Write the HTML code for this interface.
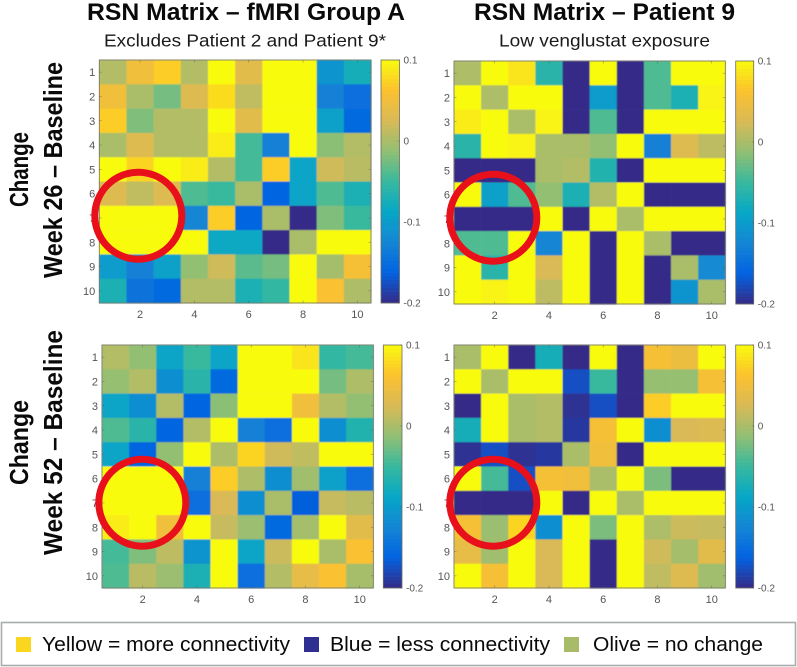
<!DOCTYPE html>
<html lang="en">
<head>
<meta charset="utf-8">
<title>RSN Matrix comparison</title>
<style>
html,body{margin:0;padding:0;background:#fff;}
svg{display:block;}
text{font-family:"Liberation Sans",sans-serif;}
.title{font-size:24px;font-weight:bold;fill:#0a0a0a;}
.sub{font-size:17.5px;fill:#1a1a1a;}
.side{font-size:26px;font-weight:bold;fill:#0a0a0a;}
.legend{font-size:20px;fill:#0a0a0a;}
.tick{font-size:11px;fill:#555;}
.cb{font-size:10px;fill:#555;}
</style>
</head>
<body>
<svg id="chart" xmlns="http://www.w3.org/2000/svg" width="797" height="667" viewBox="0 0 797 667">
  <defs>
    <filter id="soft" x="-2%" y="-2%" width="104%" height="104%"><feGaussianBlur stdDeviation="0.45"/></filter>
  </defs>
  <rect width="797" height="667" fill="#fff"/>

  <text class="title" x="87" y="20" textLength="318" lengthAdjust="spacingAndGlyphs">RSN Matrix – fMRI Group A</text>
  <text class="sub" x="104" y="46.5" textLength="282" lengthAdjust="spacingAndGlyphs">Excludes Patient 2 and Patient 9*</text>
  <text class="title" x="474" y="20" textLength="261" lengthAdjust="spacingAndGlyphs">RSN Matrix – Patient 9</text>
  <text class="sub" x="499" y="46.5" textLength="211" lengthAdjust="spacingAndGlyphs">Low venglustat exposure</text>

  <text class="side" transform="translate(28,207) rotate(-90)" textLength="75" lengthAdjust="spacingAndGlyphs">Change</text>
  <text class="side" transform="translate(62,278) rotate(-90)" textLength="216" lengthAdjust="spacingAndGlyphs">Week 26 – Baseline</text>
  <text class="side" transform="translate(28,485) rotate(-90)" textLength="85" lengthAdjust="spacingAndGlyphs">Change</text>
  <text class="side" transform="translate(62,555) rotate(-90)" textLength="225" lengthAdjust="spacingAndGlyphs">Week 52 – Baseline</text>

  <g id="panels"></g>

  <g>
    <rect x="1.5" y="622.5" width="794" height="43" fill="#fff" stroke="#a9acae" stroke-width="1.6"/>
    <rect x="16" y="637" width="15" height="15" fill="#fad61e"/>
    <text class="legend" x="42" y="651" textLength="248" lengthAdjust="spacingAndGlyphs">Yellow = more connectivity</text>
    <rect x="304" y="637" width="15" height="15" fill="#2f2e91"/>
    <text class="legend" x="330" y="651" textLength="220" lengthAdjust="spacingAndGlyphs">Blue = less connectivity</text>
    <rect x="564" y="637" width="15" height="15" fill="#a8bb69"/>
    <text class="legend" x="593" y="651" textLength="170" lengthAdjust="spacingAndGlyphs">Olive = no change</text>
  </g>
</svg>

<script>
// ---- Data ----
var xTickLabels = [2, 4, 6, 8, 10];
var yTickLabels = [1, 2, 3, 4, 5, 6, 7, 8, 9, 10];
var colorbarTickValues = [0.1, 0, -0.1, -0.2];
var colorbarTickLabels = ['0.1', '0', '-0.1', '-0.2'];

var groupAWeek26 = [
  [0.005, 0.05, 0.07, 0.005, 0.1, 0.035, 0.1, 0.1, -0.11, -0.075],
  [0.05, 0, -0.025, 0.03, 0.08, 0.012, 0.1, 0.1, -0.13, -0.15],
  [0.07, -0.02, 0.005, 0.005, 0.1, 0.035, 0.1, 0.1, -0.095, -0.155],
  [0, 0.03, 0.005, 0.005, 0.09, -0.045, -0.13, 0.1, -0.015, 0.005],
  [0.1, 0.075, 0.1, 0.09, 0.005, -0.045, 0.07, -0.09, 0.02, 0.008],
  [0.03, 0.012, 0.03, -0.04, -0.05, 0, -0.16, -0.09, -0.04, -0.07],
  [0.1, 0.1, 0.1, -0.125, 0.07, -0.16, 0, -0.2, -0.02, -0.05],
  [0.1, 0.1, 0.1, 0.1, -0.085, -0.085, -0.2, 0, 0.1, 0.1],
  [-0.1, -0.13, -0.095, -0.012, 0.02, -0.035, -0.025, 0.1, -0.003, 0.055],
  [-0.07, -0.145, -0.155, 0.005, 0.005, -0.07, -0.055, 0.1, 0.06, 0.002]
];
var patient9Week26 = [
  [0.002, 0.1, 0.085, -0.06, -0.2, 0.1, -0.2, -0.04, 0.1, 0.1],
  [0.1, 0.002, 0.1, 0.1, -0.2, -0.1, -0.2, -0.04, -0.07, 0.095],
  [0.09, 0.1, 0, 0.095, -0.2, -0.04, -0.2, 0.1, 0.1, 0.1],
  [-0.06, 0.1, 0.095, 0, 0, -0.012, 0.1, -0.13, 0.03, 0.01],
  [-0.2, -0.2, -0.2, 0, 0.005, -0.065, -0.2, 0.1, 0.1, 0.1],
  [0.1, -0.095, -0.04, -0.012, -0.07, 0.005, 0.1, -0.2, -0.2, -0.2],
  [-0.2, -0.2, -0.2, 0.1, -0.2, 0.1, 0, 0.1, 0.1, 0.1],
  [-0.04, -0.04, 0.1, -0.125, 0.1, -0.2, 0.1, 0, -0.2, -0.2],
  [0.1, -0.06, 0.1, 0.025, 0.1, -0.2, 0.1, -0.2, 0, -0.12],
  [0.1, 0.095, 0.1, 0.01, 0.1, -0.2, 0.1, -0.2, -0.11, 0]
];
var groupAWeek52 = [
  [0.005, -0.012, -0.09, -0.05, -0.09, 0.1, 0.1, 0.085, -0.055, -0.045],
  [-0.01, 0.005, -0.115, -0.06, -0.155, 0.1, 0.1, 0.1, -0.025, 0.002],
  [-0.09, -0.115, 0.005, -0.16, -0.015, 0.1, 0.1, 0.05, 0.005, -0.012],
  [-0.04, -0.06, -0.16, 0.005, 0.1, -0.13, -0.15, 0.1, -0.115, -0.065],
  [-0.09, -0.16, -0.012, 0.1, 0.002, 0.075, 0.02, 0.012, 0.1, 0.1],
  [0.1, 0.1, 0.1, -0.13, 0.07, 0.002, -0.115, -0.005, -0.095, -0.15],
  [0.1, 0.1, 0.1, -0.15, 0.025, -0.115, 0, -0.165, 0.015, 0.008],
  [0.09, 0.1, 0.05, 0.1, 0.015, -0.008, -0.155, -0.003, 0.1, 0.035],
  [-0.045, -0.02, 0.01, -0.11, 0.1, -0.09, 0.018, 0.1, 0, 0.06],
  [-0.04, 0.008, -0.008, -0.07, 0.1, -0.15, 0.005, 0.04, 0.06, -0.002]
];
var patient9Week52 = [
  [0, 0.1, -0.2, -0.075, -0.2, 0.1, -0.2, 0.055, 0.045, 0.1],
  [0.1, 0, 0.1, 0.1, -0.175, -0.05, -0.2, -0.01, -0.01, 0.055],
  [-0.2, 0.1, 0, 0.005, -0.195, -0.175, -0.2, 0.07, 0.1, 0.1],
  [-0.075, 0.1, 0, 0.005, -0.19, 0.055, 0.1, -0.115, 0.025, 0.028],
  [-0.195, -0.175, -0.195, -0.19, 0, 0.05, -0.2, 0.1, 0.1, 0.1],
  [0.1, -0.045, -0.175, 0.055, 0.05, 0, 0.1, -0.022, -0.2, -0.2],
  [-0.2, -0.2, -0.2, 0.1, -0.2, 0.1, 0, 0.1, 0.1, 0.1],
  [0.055, -0.008, 0.075, -0.115, 0.1, -0.022, 0.1, 0.002, 0.018, 0.015],
  [0.04, -0.005, 0.1, 0.025, 0.1, -0.2, 0.1, 0.02, -0.003, 0.035],
  [0.1, 0.055, 0.1, 0.025, 0.1, -0.2, 0.1, 0.012, 0.03, -0.005]
];

// ---- Colour map (parula, tuned slightly to the reference's warmer ambers) ----
var parulaAnchors = ['#352a87', '#0363e1', '#1485d4', '#06a7c6', '#38b99e', '#92bf73', '#d9ba56', '#fcc12e', '#f9fb0e'];
var colorMin = -0.2;
var colorMax = 0.1;

function hexToRgb(h) {
  return [parseInt(h.slice(1, 3), 16), parseInt(h.slice(3, 5), 16), parseInt(h.slice(5, 7), 16)];
}
function colorScale(v) {
  var t = Math.max(0, Math.min(1, (v - colorMin) / (colorMax - colorMin)));
  var p = t * (parulaAnchors.length - 1);
  var i = Math.min(parulaAnchors.length - 2, Math.floor(p));
  var f = p - i;
  var a = hexToRgb(parulaAnchors[i]);
  var b = hexToRgb(parulaAnchors[i + 1]);
  return 'rgb(' + Math.round(a[0] + (b[0] - a[0]) * f) + ',' + Math.round(a[1] + (b[1] - a[1]) * f) + ',' + Math.round(a[2] + (b[2] - a[2]) * f) + ')';
}

// ---- Drawing ----
var NS = 'http://www.w3.org/2000/svg';
var root = document.getElementById('panels');

function make(tag, parent, attrs) {
  var el = document.createElementNS(NS, tag);
  for (var k in attrs) { el.setAttribute(k, attrs[k]); }
  parent.appendChild(el);
  return el;
}

function drawPanel(key, values, box) {
  var g = make('g', root, {});
  
  

  var n = values.length;
  var cellW = (box.x1 - box.x0) / n;
  var cellH = (box.y1 - box.y0) / n;
  // Centre of 1-based column / row.
  function xScale(c) { return box.x0 + (c - 0.5) * cellW; }
  function yScale(r) { return box.y0 + (r - 0.5) * cellH; }
  function cbScale(v) { return box.y0 + (colorMax - v) / (colorMax - colorMin) * (box.y1 - box.y0); }

  var cells = make('g', g, { filter: 'url(#soft)' });
  
  
  values.forEach(function (row, r) {
    row.forEach(function (v, c) {
      var cell = make('rect', cells, {
        x: xScale(c + 1) - cellW / 2,
        y: yScale(r + 1) - cellH / 2,
        width: cellW + 0.3,
        height: cellH + 0.3,
        fill: colorScale(v)
      });
      
      
    });
  });

  var frame = make('rect', g, { x: box.x0, y: box.y0, width: box.x1 - box.x0, height: box.y1 - box.y0, fill: 'none', stroke: '#6d6d5e', 'stroke-width': 0.8 });
  
  

  xTickLabels.forEach(function (t) {
    var x = xScale(t);
    make('line', g, { x1: x, x2: x, y1: box.y1, y2: box.y1 - 2.5, stroke: '#555', 'stroke-width': 0.6, opacity: 0.6 });
    make('line', g, { x1: x, x2: x, y1: box.y0, y2: box.y0 + 2.5, stroke: '#555', 'stroke-width': 0.6, opacity: 0.6 });
    var lab = make('text', g, { x: x, y: box.y1 + 15, 'text-anchor': 'middle', 'class': 'tick' });
    
    
    lab.textContent = t;
  });
  yTickLabels.forEach(function (t) {
    var y = yScale(t);
    make('line', g, { x1: box.x0, x2: box.x0 + 2.5, y1: y, y2: y, stroke: '#555', 'stroke-width': 0.6, opacity: 0.6 });
    make('line', g, { x1: box.x1, x2: box.x1 - 2.5, y1: y, y2: y, stroke: '#555', 'stroke-width': 0.6, opacity: 0.6 });
    var lab = make('text', g, { x: box.x0 - 4, y: y + 4, 'text-anchor': 'end', 'class': 'tick' });
    
    
    lab.textContent = t;
  });

  var cb = make('g', g, {});
  
  
  var steps = 64;
  for (var s = 0; s < steps; s++) {
    var vTop = colorMax - (colorMax - colorMin) * s / steps;
    var vBot = colorMax - (colorMax - colorMin) * (s + 1) / steps;
    make('rect', cb, { x: box.cb0, y: cbScale(vTop), width: box.cb1 - box.cb0, height: cbScale(vBot) - cbScale(vTop) + 0.3, fill: colorScale((vTop + vBot) / 2) });
  }
  make('rect', cb, { x: box.cb0, y: box.y0, width: box.cb1 - box.cb0, height: box.y1 - box.y0, fill: 'none', stroke: '#6d6d5e', 'stroke-width': 0.8 });
  colorbarTickValues.forEach(function (v, i) {
    var y = cbScale(v);
    make('line', cb, { x1: box.cb1, x2: box.cb1 - 2, y1: y, y2: y, stroke: '#555', 'stroke-width': 0.6, opacity: 0.6 });
    var lab = make('text', cb, { x: box.cb1 + 4, y: y + 3.5, 'class': 'cb' });
    
    
    lab.textContent = colorbarTickLabels[i];
  });

  var ring = make('circle', g, { cx: box.ringX, cy: box.ringY, r: 43.5, fill: 'none', stroke: '#e8101a', 'stroke-width': 7 });
  
  
}

drawPanel('group-a-week-26', groupAWeek26, { x0: 99.3, x1: 371, y0: 60, y1: 303, cb0: 381, cb1: 399.5, ringX: 138.3, ringY: 215.7 });
drawPanel('patient-9-week-26', patient9Week26, { x0: 454, x1: 725.3, y0: 61, y1: 304, cb0: 735.7, cb1: 753.7, ringX: 493.3, ringY: 217.7 });
drawPanel('group-a-week-52', groupAWeek52, { x0: 102, x1: 373.3, y0: 345, y1: 588, cb0: 383.3, cb1: 402, ringX: 142.3, ringY: 502.7 });
drawPanel('patient-9-week-52', patient9Week52, { x0: 454, x1: 725.3, y0: 345, y1: 588, cb0: 735.7, cb1: 753.7, ringX: 493.3, ringY: 502.7 });
</script>
</body>
</html>
